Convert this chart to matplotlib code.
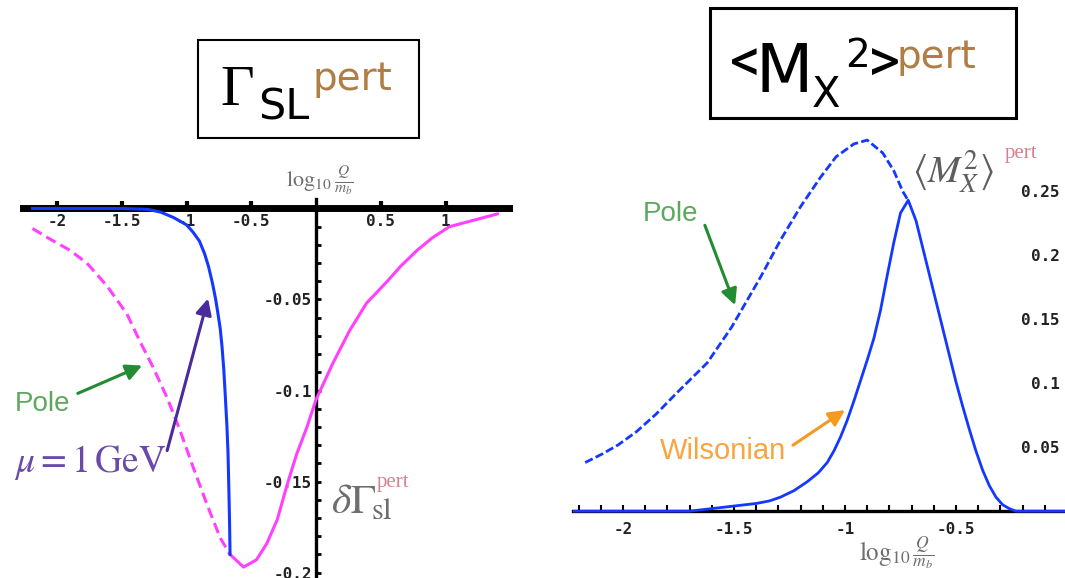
import matplotlib
matplotlib.use('Agg')
import matplotlib.pyplot as plt
from matplotlib.patches import Rectangle
from matplotlib.ticker import MultipleLocator

# Figure size in pixels (dpi 100)
W, H = 1065, 578
plt.rcParams['mathtext.fontset'] = 'stix'

# Left panel: delta Gamma_sl^pert against log10(Q/m_b)
pole_low_x = [-2.19, -2.05, -1.90, -1.77, -1.67, -1.61, -1.46, -1.36, -1.26, -1.15,
              -1.05, -0.95, -0.84, -0.74, -0.665]
pole_low_y = [-0.011, -0.017, -0.023, -0.030, -0.038, -0.043, -0.058, -0.073, -0.087, -0.104,
              -0.122, -0.142, -0.163, -0.181, -0.190]
pole_high_x = [-0.665, -0.56, -0.46, -0.38, -0.30, -0.22, -0.15, -0.07, 0.0, 0.13,
               0.26, 0.39, 0.55, 0.65, 0.78, 0.90, 1.03, 1.21, 1.40]
pole_high_y = [-0.190, -0.197, -0.193, -0.184, -0.171, -0.151, -0.135, -0.120, -0.105, -0.085,
               -0.067, -0.052, -0.040, -0.032, -0.023, -0.016, -0.010, -0.0066, -0.003]
mu1_x = [-2.19, -1.5, -1.3, -1.2, -1.1, -1.0, -0.95, -0.9, -0.86, -0.83, -0.80,
         -0.775, -0.757, -0.74, -0.726, -0.712, -0.70, -0.688, -0.68, -0.673, -0.668, -0.664]
mu1_y = [0.0, 0.0, -0.0005, -0.002, -0.005, -0.009, -0.013, -0.018, -0.025, -0.032, -0.041,
         -0.050, -0.058, -0.066, -0.076, -0.089, -0.104, -0.120, -0.134, -0.155, -0.172, -0.190]
left_xticks = [-2, -1.5, -1, -0.5, 0.5, 1]
left_xlabels = ['-2', '-1.5', '-1', '-0.5', '0.5', '1']
left_yticks = [-0.05, -0.1, -0.15, -0.2]
left_ylabels = ['-0.05', '-0.1', '-0.15', '-0.2']

# Right panel: <M_X^2>^pert against log10(Q/m_b)
mx_pole_x = [-2.17, -2.09, -2.02, -1.94, -1.85, -1.76, -1.62, -1.51, -1.38, -1.29,
             -1.20, -1.11, -1.04, -0.96, -0.90, -0.83, -0.78, -0.74, -0.716]
mx_pole_y = [0.038, 0.045, 0.052, 0.062, 0.076, 0.092, 0.116, 0.144, 0.183, 0.212,
             0.238, 0.261, 0.277, 0.287, 0.290, 0.280, 0.266, 0.250, 0.243]
mx_wils_x = [-2.225, -1.70, -1.60, -1.50, -1.40, -1.34, -1.29, -1.23, -1.17, -1.12,
             -1.08, -1.05, -1.02, -0.99, -0.96, -0.93, -0.90, -0.87, -0.84, -0.81,
             -0.78, -0.75, -0.715, -0.68, -0.65, -0.62, -0.59, -0.56, -0.53, -0.50,
             -0.47, -0.44, -0.41, -0.38, -0.35, -0.32, -0.29, -0.26, -0.23, 0.0]
mx_wils_y = [0.0, 0.0, 0.002, 0.004, 0.006, 0.008, 0.011, 0.016, 0.023, 0.030,
             0.038, 0.047, 0.058, 0.071, 0.086, 0.102, 0.118, 0.135, 0.157, 0.184,
             0.210, 0.233, 0.243, 0.227, 0.206, 0.185, 0.164, 0.143, 0.122, 0.101,
             0.082, 0.064, 0.047, 0.032, 0.020, 0.011, 0.005, 0.002, 0.0, 0.0]
right_xticks = [-2, -1.5, -1, -0.5]
right_xlabels = ['-2', '-1.5', '-1', '-0.5']
right_yticks = [0.05, 0.1, 0.15, 0.2, 0.25]
right_ylabels = ['0.05', '0.1', '0.15', '0.2', '0.25']

# Styles
blue = '#1438ff'
magenta = '#ff40ff'
gray = '#6e6e6e'
pert_red = '#d8808f'
brown = '#b07d45'
tick_font = 'DejaVu Sans Mono'
tick_size = 11.5


def axes_box(x0, y0, x1, y1):
    return [x0 / W, 1 - y1 / H, (x1 - x0) / W, (y1 - y0) / H]


def ptext(fig, x, y, s, **kw):
    kw.setdefault('va', 'baseline')
    kw.setdefault('ha', 'left')
    return fig.text(x / W, 1 - y / H, s, **kw)


def pbox(fig, x0, y0, x1, y1, lw):
    rect = Rectangle((x0 / W, 1 - y1 / H), (x1 - x0) / W, (y1 - y0) / H,
                     transform=fig.transFigure, fill=False, ec='black', lw=lw)
    fig.add_artist(rect)


def bold_ticks(ax):
    for lbl in ax.get_xticklabels() + ax.get_yticklabels():
        lbl.set_fontweight('bold')
        lbl.set_color('#222222')


def arrow(ax, tail, head, color):
    ax.annotate('', xy=head, xytext=tail,
                arrowprops=dict(arrowstyle='-|>', color=color, lw=2.2,
                                mutation_scale=24, shrinkA=0, shrinkB=0))


fig = plt.figure(figsize=(W / 100, H / 100), dpi=100)
fig.patch.set_facecolor('white')

# ---- left panel ----
ax1 = fig.add_axes(axes_box(23, 199, 509, 578))
ax1.plot(pole_low_x, pole_low_y, color=magenta, lw=2.2, ls=(0, (3.5, 1.8)), zorder=3)
ax1.plot(pole_high_x, pole_high_y, color=magenta, lw=2.2, zorder=3)
ax1.plot(mu1_x, mu1_y, color=blue, lw=2.2, zorder=3)
ax1.set_xlim(-2.263, 1.49)
ax1.set_ylim(-0.203, 0.0052)
for s in ['top', 'right']:
    ax1.spines[s].set_visible(False)
ax1.spines['bottom'].set_position(('data', 0))
ax1.spines['bottom'].set_linewidth(5)
ax1.spines['left'].set_position(('data', 0))
ax1.spines['left'].set_linewidth(2.4)
ax1.set_xticks(left_xticks)
ax1.set_xticklabels(left_xlabels)
ax1.set_yticks(left_yticks)
ax1.set_yticklabels(left_ylabels)
ax1.yaxis.set_minor_locator(MultipleLocator(0.01))
ax1.tick_params(axis='x', direction='in', length=5, width=3, pad=4,
                labelsize=tick_size, labelfontfamily=tick_font)
ax1.tick_params(axis='y', which='both', direction='in', length=3.5, width=2, pad=3,
                labelsize=tick_size, labelfontfamily=tick_font)
bold_ticks(ax1)
arrow(ax1, (-1.84, -0.1016), (-1.343, -0.0863), '#238b32')
arrow(ax1, (-1.15, -0.133), (-0.834, -0.0495), '#4b2a9b')

ptext(fig, 286, 180, r'$\log_{10}\frac{Q}{m_b}$', color=gray, fontsize=16, va='center')
ptext(fig, 15, 411, 'Pole', color='#5ea85e', fontsize=20, family='Liberation Sans')
ptext(fig, 14, 472, r'$\mu = 1\,\mathrm{GeV}$', color='#6a4aa8', fontsize=27)
ptext(fig, 331, 513, r'$\delta\Gamma$', color=gray, fontsize=30)
ptext(fig, 371, 519, r'$\mathrm{sl}$', color=gray, fontsize=22)
ptext(fig, 377, 487, 'pert', color=pert_red, fontsize=15, family='Liberation Serif')

# ---- right panel ----
ax2 = fig.add_axes(axes_box(573, 135, 1065, 515))
ax2.plot(mx_pole_x, mx_pole_y, color=blue, lw=2, ls=(0, (3, 1.2)), zorder=3)
ax2.plot(mx_wils_x, mx_wils_y, color=blue, lw=2, zorder=3)
ax2.set_xlim(-2.225, -0.009)
ax2.set_ylim(-0.003, 0.294)
for s in ['top', 'left', 'right']:
    ax2.spines[s].set_visible(False)
ax2.spines['bottom'].set_position(('data', 0))
ax2.spines['bottom'].set_linewidth(2.4)
ax2.set_xticks(right_xticks)
ax2.set_xticklabels(right_xlabels)
ax2.xaxis.set_minor_locator(MultipleLocator(0.1))
ax2.tick_params(axis='x', which='both', direction='in', length=4.5, width=1.5, pad=8,
                labelsize=tick_size, labelfontfamily=tick_font)
ax2.yaxis.tick_right()
ax2.set_yticks(right_yticks)
ax2.set_yticklabels(right_ylabels)
ax2.tick_params(axis='y', length=0, pad=-4, labelsize=tick_size, labelfontfamily=tick_font)
for lbl in ax2.get_yticklabels():
    lbl.set_horizontalalignment('right')
bold_ticks(ax2)
arrow(ax2, (-1.631, 0.2234), (-1.495, 0.161), '#238b32')
arrow(ax2, (-1.234, 0.0516), (-1.0, 0.079), '#f59a20')

ptext(fig, 859, 553, r'$\log_{10}\frac{Q}{m_b}$', color=gray, fontsize=18, va='center')
ptext(fig, 643, 221, 'Pole', color='#5ea85e', fontsize=20, family='Liberation Sans')
ptext(fig, 660, 459, 'Wilsonian', color='#f8a540', fontsize=21, family='Liberation Sans')
ptext(fig, 912, 183, r'$\langle M_X^2\rangle$', color='#5e5e5e', fontsize=28)
ptext(fig, 1005, 158, 'pert', color=pert_red, fontsize=15, family='Liberation Serif')

# ---- boxed headings ----
pbox(fig, 198, 40, 419, 138, 1.5)
ptext(fig, 220, 105, '\u0393', color='black', fontsize=42, family='Liberation Serif')
ptext(fig, 258, 120, 'SL', color='black', fontsize=31)
ptext(fig, 313, 90, 'pert', color=brown, fontsize=28)

pbox(fig, 710, 8, 1016, 118, 2.2)
ptext(fig, 730, 64.5, '<', color='black', fontsize=44, family='Roboto', va='center')
ptext(fig, 755, 92, 'M', color='black', fontsize=48)
ptext(fig, 812, 107, 'X', color='black', fontsize=30)
ptext(fig, 845, 67, '2', color='black', fontsize=28)
ptext(fig, 868, 64.5, '>', color='black', fontsize=44, family='Roboto', va='center')
ptext(fig, 896, 68, 'pert', color=brown, fontsize=28)

fig.savefig('out.png', dpi=100, facecolor='white')
